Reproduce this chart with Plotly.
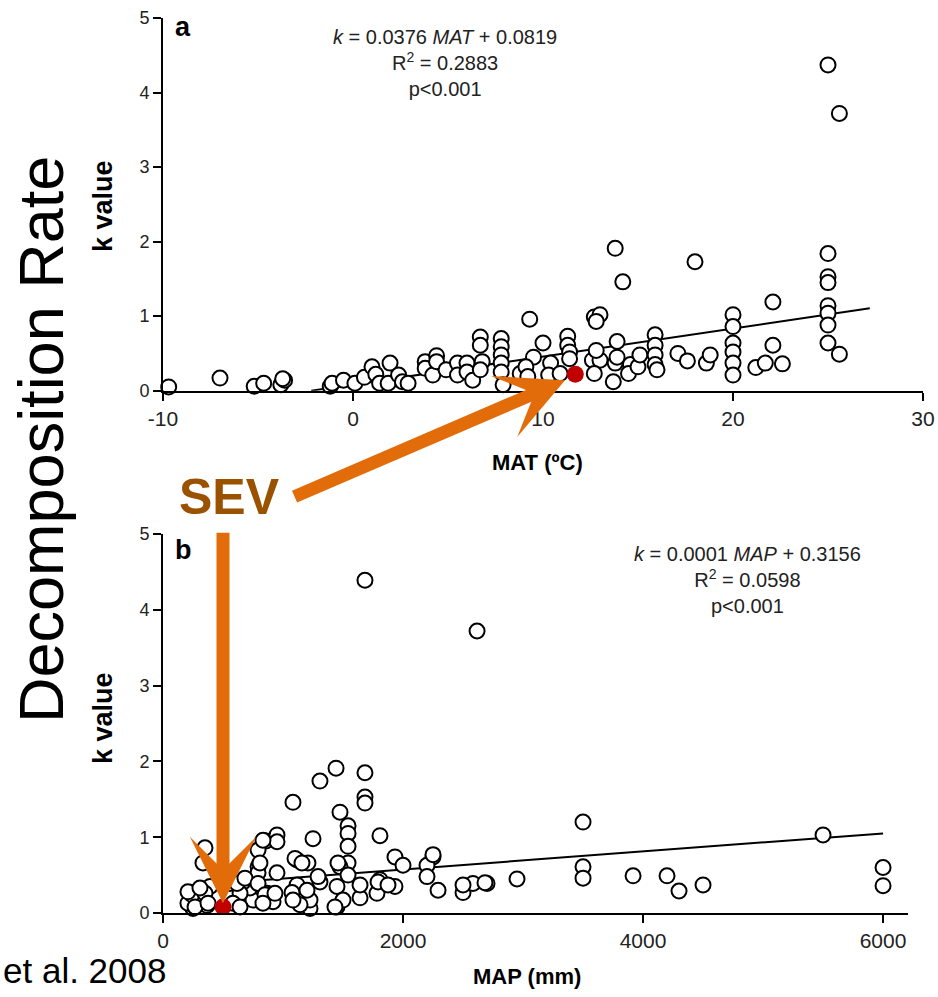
import plotly.graph_objects as go

# ---------------- data ----------------
mat_x = [-9.7, -7.0, -5.2, -4.7, -3.8, -3.6, -3.7,
         -1.2, -1.1, -0.5, 0.1, 0.6, 1.0, 1.2, 1.4, 1.95, 1.85, 2.4, 2.6, 2.9,
         3.8, 3.8, 4.2, 4.4, 4.4, 4.9, 5.5, 5.5, 6.0, 6.0, 6.3, 6.7, 6.7, 6.8, 6.7,
         7.8, 7.8, 7.8, 7.8, 7.8, 7.9, 9.3, 8.8, 9.5,
         10.0, 9.1, 9.2, 10.4, 10.3, 11.3, 11.3, 11.4, 11.4, 10.9,
         12.7, 13.0, 12.8, 12.6, 13.0, 12.7, 12.8, 13.9, 13.8, 14.2, 13.8, 13.7, 13.9,
         14.6, 14.5, 15.0, 15.1, 15.9, 15.9, 15.9, 15.9, 16.0, 17.1, 17.6, 18.0, 18.6, 18.8,
         20.0, 20.0, 20.0, 20.0, 20.0, 20.0, 21.2, 22.1, 22.1, 21.7, 22.6,
         25.0, 25.6, 25.0, 25.0, 25.0, 25.0, 25.0, 25.0, 25.0, 25.6]
mat_k = [0.05, 0.17, 0.06, 0.10, 0.08, 0.14, 0.16,
         0.06, 0.10, 0.14, 0.10, 0.18, 0.32, 0.22, 0.10, 0.37, 0.10, 0.21, 0.12, 0.10,
         0.39, 0.30, 0.21, 0.47, 0.39, 0.28, 0.37, 0.21, 0.37, 0.25, 0.14, 0.72, 0.61, 0.39, 0.28,
         0.70, 0.59, 0.48, 0.37, 0.25, 0.08, 0.96, 0.23, 0.45,
         0.64, 0.32, 0.19, 0.37, 0.21, 0.73, 0.61, 0.52, 0.43, 0.23,
         0.99, 1.02, 0.93, 0.41, 0.41, 0.23, 0.54, 0.66, 1.91, 1.46, 0.37, 0.12, 0.45,
         0.35, 0.23, 0.32, 0.48, 0.75, 0.61, 0.48, 0.35, 0.28, 0.50, 0.40, 1.73, 0.37, 0.48,
         1.02, 0.86, 0.64, 0.52, 0.37, 0.21, 0.31, 1.19, 0.61, 0.37, 0.36,
         4.37, 3.72, 1.84, 1.53, 1.45, 1.14, 1.04, 0.88, 0.64, 0.49]

map_x = [1683, 2617, 1442, 1308, 1683, 1683, 1683, 1083, 1475, 1542, 1542, 1542, 1542,
         1250, 1808, 858, 950, 950, 792, 350, 333, 792, 792, 950, 1117, 1208, 1475,
         1933, 2000, 2250, 2200, 2200, 2292, 2500, 2583, 2700, 2500, 1808, 1783, 1933,
         1642, 1642, 1450, 1450, 1500, 1308, 1225, 1225, 1142, 1117, 1075, 1200, 917,
         867, 750, 725, 667, 642, 583, 642, 250, 208, 242, 367, 392, 350, 558,
         208, 267, 308, 375, 617, 683, 833, 808, 792, 850, 833, 933, 1083, 1100, 1158,
         1292, 1433, 1458, 1542, 1792, 1875, 2250,
         3500, 3500, 3500, 2950, 2683, 3917, 4200, 4300, 4500, 5500, 6000, 6000]
map_k = [4.39, 3.72, 1.91, 1.74, 1.85, 1.53, 1.45, 1.46, 1.33, 1.15, 1.05, 0.88, 0.66,
         0.98, 1.02, 0.95, 1.03, 0.94, 0.83, 0.86, 0.66, 0.61, 0.53, 0.53, 0.70, 0.66, 0.61,
         0.74, 0.63, 0.74, 0.63, 0.48, 0.30, 0.27, 0.39, 0.39, 0.37, 0.44, 0.26, 0.35,
         0.20, 0.37, 0.35, 0.08, 0.17, 0.41, 0.06, 0.17, 0.11, 0.37, 0.27, 0.30, 0.15,
         0.26, 0.17, 0.33, 0.41, 0.26, 0.13, 0.08, 0.06, 0.13, 0.24, 0.10, 0.35, 0.26, 0.39,
         0.28, 0.08, 0.33, 0.13, 0.39, 0.46, 0.96, 0.66, 0.39, 0.24, 0.13, 0.26, 0.17, 0.72, 0.66,
         0.48, 0.08, 0.66, 0.50, 0.41, 0.37, 0.77,
         1.20, 0.61, 0.46, 0.45, 0.40, 0.49, 0.49, 0.29, 0.37, 1.03, 0.60, 0.36]

sev_mat = [11.7]
sev_mat_k = [0.22]
sev_map = [500]
sev_map_k = [0.08]

fit_mat_x = [-2.2, 27.2]
fit_mat_k = [0.0, 1.105]
fit_map_x = [200, 6000]
fit_map_k = [0.36, 1.05]

mat_ticks = [-10, 0, 10, 20, 30]
mat_ticktext = ["-10", "0", "10", "20", "30"]
map_ticks = [0, 2000, 4000, 6000]
map_ticktext = ["0", "2000", "4000", "6000"]
k_ticks = [0, 1, 2, 3, 4, 5]

# ---------------- figure ----------------
W, H = 938, 997
FONT = "Liberation Sans, Arial, Helvetica, sans-serif"
ORANGE = "#E36C0A"


def px(x):
    return x / W


def py(y):
    return 1 - y / H


open_marker = dict(symbol="circle", size=15, color="white",
                   line=dict(color="black", width=2))
sev_marker = dict(symbol="circle", size=17, color="#C00000")

fig = go.Figure()
fig.add_trace(go.Scatter(x=fit_mat_x, y=fit_mat_k, mode="lines",
                         line=dict(color="black", width=2), xaxis="x", yaxis="y"))
fig.add_trace(go.Scatter(x=mat_x, y=mat_k, mode="markers", marker=open_marker,
                         xaxis="x", yaxis="y", cliponaxis=False))
fig.add_trace(go.Scatter(x=sev_mat, y=sev_mat_k, mode="markers",
                         marker=sev_marker, xaxis="x", yaxis="y"))
fig.add_trace(go.Scatter(x=fit_map_x, y=fit_map_k, mode="lines",
                         line=dict(color="black", width=2), xaxis="x2", yaxis="y2"))
fig.add_trace(go.Scatter(x=map_x, y=map_k, mode="markers", marker=open_marker,
                         xaxis="x2", yaxis="y2", cliponaxis=False))
fig.add_trace(go.Scatter(x=sev_map, y=sev_map_k, mode="markers",
                         marker=sev_marker, xaxis="x2", yaxis="y2"))

axis_common = dict(showline=True, linecolor="black", linewidth=2, ticks="outside",
                   ticklen=8, tickwidth=2, tickcolor="black", showgrid=False,
                   zeroline=False, color="#222", automargin=False)

fig.update_layout(
    width=W, height=H, margin=dict(l=0, r=0, t=0, b=0, autoexpand=False),
    paper_bgcolor="white", plot_bgcolor="white", showlegend=False,
    font=dict(family=FONT, color="#222"),
    xaxis=dict(axis_common, domain=[px(163), px(923)], range=[-10, 30],
               tickvals=mat_ticks, ticktext=mat_ticktext, tickfont=dict(size=21),
               anchor="y"),
    yaxis=dict(axis_common, domain=[py(390.7), py(18)], range=[0, 5],
               tickvals=k_ticks, tickfont=dict(size=18), anchor="x"),
    xaxis2=dict(axis_common, domain=[px(163), px(908)], range=[0, 6208],
                tickvals=map_ticks, ticktext=map_ticktext, tickfont=dict(size=21),
                anchor="y2"),
    yaxis2=dict(axis_common, domain=[py(913), py(534)], range=[0, 5],
                tickvals=k_ticks, tickfont=dict(size=18), anchor="x2"),
)

ann = []


def txt(x, y, text, size, bold=False, color="#222", angle=0, xanchor="center",
        yanchor="middle"):
    ann.append(dict(x=px(x), y=py(y), xref="paper", yref="paper", text=text,
                    showarrow=False, textangle=angle, xanchor=xanchor, yanchor=yanchor,
                    font=dict(family=FONT, size=size, color=color,
                              weight="bold" if bold else "normal")))


txt(445, 63, "<i>k</i> = 0.0376 <i>MAT</i> + 0.0819<br>R<sup>2</sup> = 0.2883<br>p&lt;0.001", 20)
txt(747, 580, "<i>k</i> = 0.0001 <i>MAP</i> + 0.3156<br>R<sup>2</sup> = 0.0598<br>p&lt;0.001", 20)
txt(183, 27, "a", 27, bold=True, color="black")
txt(183, 550, "b", 27, bold=True, color="black")
txt(537, 462, "MAT (ºC)", 22, bold=True, color="black")
txt(527, 976, "MAP (mm)", 22, bold=True, color="black")
txt(103, 206, "k value", 27, bold=True, color="black", angle=-90)
txt(103, 718, "k value", 27, bold=True, color="black", angle=-90)
txt(41, 440, "Decomposition Rate", 63, color="black", angle=-90)
txt(1, 970, "et al. 2008", 35, color="black", xanchor="left")
txt(229, 497, "SEV", 50, bold=True, color="#9A5200")

# arrows pointing at the SEV points
ann.append(dict(x=11.16, y=0.14, xref="x", yref="y", ax=-272, ay=117,
                axref="pixel", ayref="pixel", text="", showarrow=True,
                arrowhead=3, arrowsize=0.85, arrowwidth=13, arrowcolor=ORANGE,
                standoff=0))
ann.append(dict(x=500, y=0.13, xref="x2", yref="y2", ax=0, ay=-372,
                axref="pixel", ayref="pixel", text="", showarrow=True,
                arrowhead=3, arrowsize=0.85, arrowwidth=13, arrowcolor=ORANGE,
                standoff=0))

fig.update_layout(annotations=ann)
# remove the default page margin so the figure sits at the window origin
fig.write_html("out.html",
               config={"displayModeBar": False},
               post_script="document.body.style.margin='0';document.body.style.overflow='hidden';")
